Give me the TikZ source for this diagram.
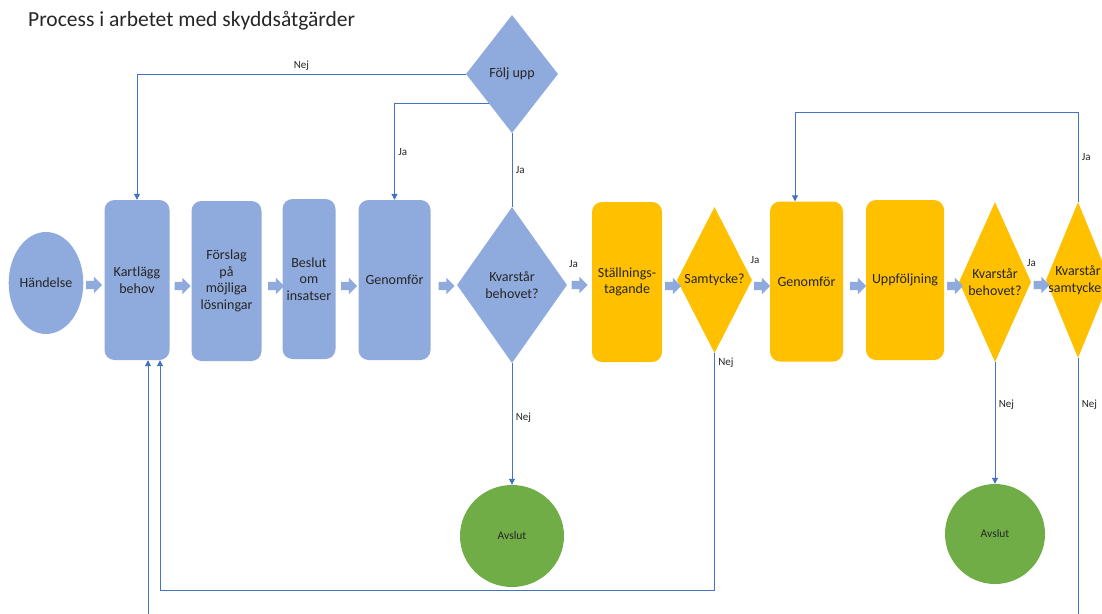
\documentclass[tikz,border=0pt]{standalone}
\usepackage{fontspec}
\setmainfont{Carlito}
\usetikzlibrary{shapes.geometric,shapes.arrows,positioning,arrows.meta}

\definecolor{blafyll}{HTML}{8FAADC}
\definecolor{gulfyll}{HTML}{FFC000}
\definecolor{gronfyll}{HTML}{70AD47}
\definecolor{linjefarg}{HTML}{4472C4}
\definecolor{textfarg}{HTML}{262626}

\tikzset{
  steg/.style={rounded corners=10pt, minimum height=160pt, inner sep=1pt,
    align=center, text=textfarg, font=\fontsize{14}{16.5}\selectfont},
  start/.style={ellipse, inner sep=0pt, align=center, text=textfarg,
    font=\fontsize{14}{16.5}\selectfont},
  slut/.style={ellipse, fill=gronfyll, inner sep=0pt, text=textfarg,
    font=\fontsize{11.5}{13}\selectfont},
  fraga/.style={diamond, inner sep=0pt},
  rutext/.style={align=center, text=textfarg, font=\fontsize{14}{16.5}\selectfont},
  pil/.style={single arrow, fill=blafyll, draw=none, inner sep=0pt, inner ysep=4pt,
    minimum height=16pt, single arrow head extend=4pt},
  flode/.style={draw=linjefarg, line width=1pt, -{Triangle[width=6pt,length=6pt]}},
  linje/.style={draw=linjefarg, line width=1pt},
  etikett/.style={text=textfarg, font=\fontsize{11}{12}\selectfont}
}

\begin{document}
\begin{tikzpicture}[x=1pt, y=-1pt]
  \fill[white] (0,0) rectangle (1102,613);
  \useasboundingbox (0,0) rectangle (1102,613);
  \clip (0,0) rectangle (1102,613);

  \node[anchor=base west, inner sep=0pt, text=textfarg, font=\fontsize{21.5}{25}\selectfont] (rubrik) at (28,27)
    {Process i arbetet med skyddsåtgärder};

  % blå delen
  \node[start, fill=blafyll, minimum width=72pt, minimum height=102pt] (handelse) at (46,283) {Händelse};
  \node[steg, fill=blafyll, minimum width=65pt] (kart) at (137,280) {Kartlägg\\behov};
  \node[steg, fill=blafyll, minimum width=70pt] (forslag) at (226.5,281) {Förslag\\på\\möjliga\\lösningar};
  \node[steg, fill=blafyll, minimum width=53pt] (beslut) at (309,279) {Beslut\\om\\insatser};
  \node[steg, fill=blafyll, minimum width=72pt] (genom1) at (394.5,280) {Genomför};
  \node[fraga, fill=blafyll, minimum width=110pt, minimum height=156pt,
    label={[rutext]center:Kvarstår\\behovet?}] (kvar1) at (512,285) {};
  \node[fraga, fill=blafyll, minimum width=92pt, minimum height=118pt,
    label={[rutext]center:Följ upp}] (folj) at (512,74) {};
  \node[slut, minimum width=104pt, minimum height=102pt] (avslut1) at (512,536) {Avslut};

  % gula delen
  \node[steg, fill=gulfyll, minimum width=70pt] (stall) at (627,282) {Ställnings-\\tagande};
  \node[fraga, fill=gulfyll, minimum width=75pt, minimum height=146pt,
    label={[rutext]center:Samtycke?}] (samt) at (714.5,280) {};
  \node[steg, fill=gulfyll, minimum width=73pt] (genom2) at (806.5,281.5) {Genomför};
  \node[steg, fill=gulfyll, minimum width=78pt] (uppf) at (905,280) {Uppföljning};
  \node[fraga, fill=gulfyll, minimum width=72pt, minimum height=160pt,
    label={[rutext]center:Kvarstår\\behovet?}] (kvar2) at (995,282) {};
  \node[fraga, fill=gulfyll, minimum width=64pt, minimum height=156pt,
    label={[rutext]center:Kvarstår\\samtycke?}] (kvarsamt) at (1078,280) {};
  \node[slut, minimum width=100pt, minimum height=100pt] (avslut2) at (995,534) {Avslut};

  % blockpilar
  \node[pil] (pil1) at (92,285) {};
  \node[pil] (pil2) at (180.5,286) {};
  \node[pil] (pil3) at (274,286) {};
  \node[pil] (pil4) at (347,286) {};
  \node[pil] (pil5) at (444.5,286) {};
  \node[pil] (pil6) at (577.5,285) {};
  \node[pil] (pil7) at (671,286) {};
  \node[pil] (pil8) at (760,286) {};
  \node[pil] (pil9) at (856,286) {};
  \node[pil] (pil10) at (953,286) {};
  \node[pil] (pil11) at (1039.5,285) {};
  \node[etikett, above=9pt of pil6, xshift=-4pt] (ja6) {Ja};
  \node[etikett, above=14pt of pil8, xshift=-5pt] (ja8) {Ja};
  \node[etikett, above=10pt of pil11, xshift=-8pt] (ja11) {Ja};

  \coordinate (topp) at (0,112);
  \coordinate (botten) at (0,590);
  \coordinate (nere) at (0,650);

  % linjer
  \draw[flode] (folj.west) -| node[etikett, above, pos=0.25]{Nej} (kart.north);
  \draw[flode] (folj.south west) -| node[etikett, right, pos=0.75]{Ja} (genom1.north);
  \draw[linje] (kvar1.north) -- node[etikett, right]{Ja} (folj.south);
  \draw[flode] (kvar1.south) -- node[etikett, right, pos=0.45]{Nej} (avslut1.north);
  \draw[flode] (samt.south) -- node[etikett, right, pos=0.04]{Nej} (samt.south |- botten)
    -| ([xshift=23pt]kart.south);
  \draw[flode] (kvarsamt.south) -- node[etikett, right, pos=0.16]{Nej} (kvarsamt.south |- nere)
    -| ([xshift=11pt]kart.south);
  \draw[flode] (kvarsamt.north) -- node[etikett, right]{Ja} (kvarsamt.north |- topp)
    -| ([xshift=-11.5pt]genom2.north);
  \draw[flode] (kvar2.south) -- node[etikett, right, pos=0.35]{Nej} (avslut2.north);
\end{tikzpicture}
\end{document}
